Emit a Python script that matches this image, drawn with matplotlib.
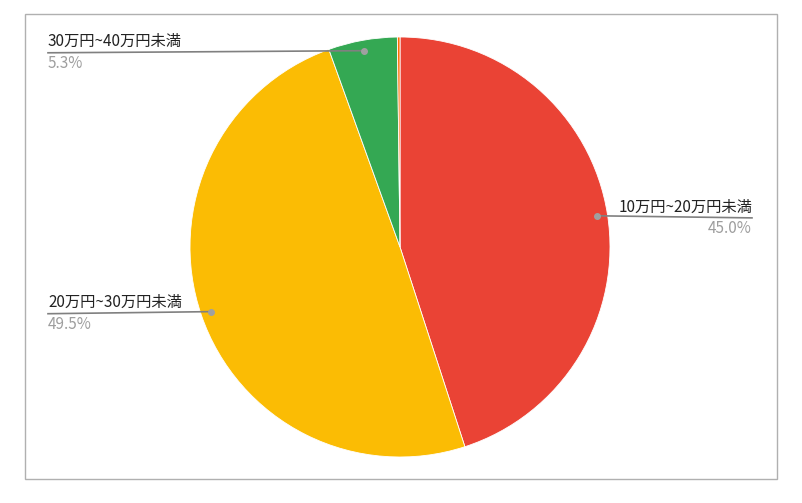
import numpy as np
import matplotlib
matplotlib.use("Agg")
import matplotlib.pyplot as plt
from matplotlib.patches import Rectangle

plt.rcParams['font.family'] = ['Noto Sans CJK JP', 'DejaVu Sans']

labels = ["10万円~20万円未満", "20万円~30万円未満", "30万円~40万円未満", "その他"]
values = [45.0, 49.5, 5.3, 0.2]
colors = ["#EA4335", "#FBBC04", "#34A853", "#FF6D01"]
show_label = [True, True, True, False]

W, H = 802, 503
fig = plt.figure(figsize=(W / 100, H / 100), dpi=100)
fig.patches.append(Rectangle((25 / W, 1 - 479 / H), (777 - 25) / W, (479 - 14) / H,
                             transform=fig.transFigure, fill=False,
                             edgecolor="#b0b0b0", linewidth=1.0))

cx, cy, R = 400, 247, 210
ax = fig.add_axes([(cx - R) / W, 1 - (cy + R) / H, 2 * R / W, 2 * R / H])

wedges, _ = ax.pie(values, colors=colors, startangle=90, counterclock=False,
                   radius=1.0, wedgeprops=dict(linewidth=0.6, edgecolor="white"))
ax.set_xlim(-1, 1)
ax.set_ylim(-1, 1)
ax.set_aspect('equal')
ax.axis('off')

left_x = (48 - cx) / R
right_x = (752 - cx) / R
total = sum(values)
cum = 0.0
for v, lab, show in zip(values, labels, show_label):
    mid = (cum + v / 2) / total * 360.0
    cum += v
    if not show:
        continue
    a = np.deg2rad(90 - mid)
    px, py = 0.95 * np.cos(a), 0.95 * np.sin(a)
    tx = right_x if px > 0 else left_x
    ly = py - 0.01
    ax.plot([px, tx], [py, ly], color="#808080", lw=1.2, clip_on=False, zorder=5)
    ax.plot([px], [py], 'o', color="#a0a0a0", ms=4, clip_on=False, zorder=6)
    ha = 'right' if px > 0 else 'left'
    ax.text(tx, ly + 0.012, lab, ha=ha, va='bottom', fontsize=11, color="#222222")
    ax.text(tx, ly - 0.01, f"{v:.1f}%", ha=ha, va='top', fontsize=11, color="#9e9e9e")

fig.savefig("out.png", dpi=100)
